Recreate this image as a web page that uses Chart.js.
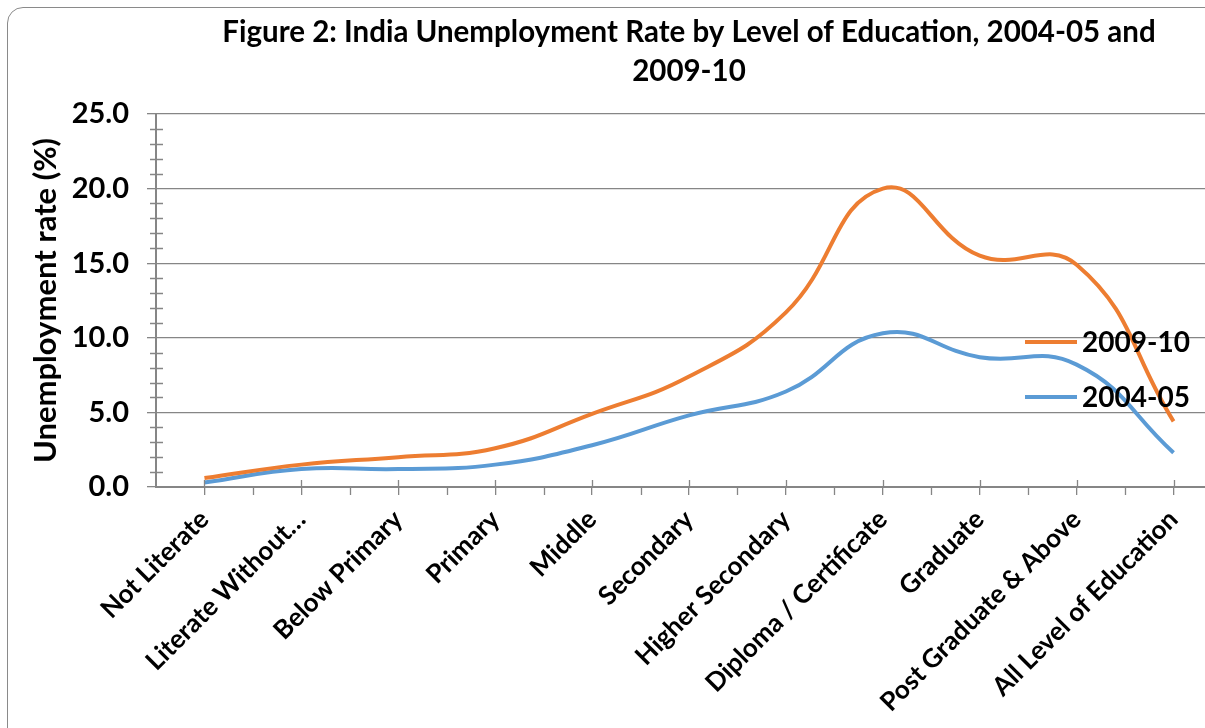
<!DOCTYPE html>
<html>
<head>
<meta charset="utf-8">
<script src="https://cdn.jsdelivr.net/npm/chart.js@4.4.1/dist/chart.umd.min.js"></script>
<style>
  body { margin: 0; overflow: hidden; background: #fff; }
  #wrap { position: relative; width: 1205px; height: 728px; overflow: hidden; }
  #frame { position: absolute; left: 7px; top: 7px; width: 1212px; height: 740px;
           border: 1.5px solid #8a8a8a; border-radius: 16px; pointer-events: none; }
  canvas { position: absolute; left: 0; top: 0; }
</style>
</head>
<body>
<div id="wrap">
  <canvas id="grafico" width="1222" height="728"></canvas>
  <div id="frame"></div>
</div>
<script>
// categorias e valores
const categorias = ['Not Literate', 'Literate Without…', 'Below Primary', 'Primary', 'Middle',
  'Secondary', 'Higher Secondary', 'Diploma / Certificate', 'Graduate',
  'Post Graduate & Above', 'All Level of Education'];
const taxa2009 = [0.6, 1.5, 2.0, 2.6, 4.9, 7.4, 11.7, 20.0, 15.5, 14.9, 4.4];
const taxa2004 = [0.3, 1.2, 1.2, 1.5, 2.8, 4.8, 6.4, 10.3, 8.7, 8.2, 2.3];
const rotulos = ['2009-10', '2004-05'];
const eixoY = { min: 0, max: 25, passo: 5, passoMenor: 1 };

const cinza = '#868686';
const fonte = 'Lato';

// marcas menores dos eixos (como no Excel)
const marcasMenores = {
  id: 'marcasMenores',
  afterDraw(chart) {
    const ctx = chart.ctx;
    const x = chart.scales.x, y = chart.scales.y;
    ctx.save();
    ctx.strokeStyle = cinza;
    ctx.lineWidth = 1.3;
    ctx.beginPath();
    for (let v = eixoY.min; v <= eixoY.max; v += eixoY.passoMenor) {
      if (v % eixoY.passo === 0) continue;
      const py = Math.round(y.getPixelForValue(v)) + 0.5;
      ctx.moveTo(y.right - 6, py);
      ctx.lineTo(y.right + 7, py);
    }
    const base = y.getPixelForValue(0);
    for (let i = 0; i < categorias.length; i++) {
      const px = Math.round(x.getPixelForTick(i)) + 0.5;
      ctx.moveTo(px, base - 7);
      ctx.lineTo(px, base);
      if (i > 0) {
        const meio = Math.round((x.getPixelForTick(i) + x.getPixelForTick(i - 1)) / 2) + 0.5;
        ctx.moveTo(meio, base);
        ctx.lineTo(meio, base + 8);
      }
    }
    ctx.stroke();
    ctx.restore();
  }
};

// legenda desenhada dentro da área do gráfico
const legendaDentro = {
  id: 'legendaDentro',
  afterDraw(chart) {
    const ctx = chart.ctx;
    const a = chart.chartArea;
    ctx.save();
    ctx.font = 'bold 28px ' + fonte;
    ctx.textBaseline = 'middle';
    ctx.fillStyle = '#000';
    chart.data.datasets.forEach((ds, i) => {
      const cy = a.top + 228 + i * 55;
      const x0 = a.right - 197;
      ctx.strokeStyle = ds.borderColor;
      ctx.lineWidth = 4;
      ctx.beginPath();
      ctx.moveTo(x0, cy);
      ctx.lineTo(x0 + 52, cy);
      ctx.stroke();
      ctx.fillText(ds.label, x0 + 57, cy + 1);
    });
    ctx.restore();
  }
};

new Chart(document.getElementById('grafico'), {
  type: 'line',
  data: {
    labels: categorias,
    datasets: [
      { label: rotulos[0], data: taxa2009, borderColor: '#ED7D31', backgroundColor: '#ED7D31',
        borderWidth: 4, pointRadius: 0, tension: 0.45, fill: false },
      { label: rotulos[1], data: taxa2004, borderColor: '#5B9BD5', backgroundColor: '#5B9BD5',
        borderWidth: 4, pointRadius: 0, tension: 0.45, fill: false }
    ]
  },
  options: {
    responsive: false,
    animation: false,
    devicePixelRatio: 1,
    layout: { padding: 0 },
    plugins: {
      legend: { display: false },
      tooltip: { enabled: false },
      title: {
        display: true,
        fullSize: false,
        text: ['Figure 2: India Unemployment Rate by Level of Education, 2004-05 and', '2009-10'],
        color: '#000',
        font: { family: fonte, size: 29.5, weight: 'bold', lineHeight: 1.355 },
        padding: { top: 12, bottom: 22 }
      }
    },
    scales: {
      x: {
        offset: true,
        afterFit(s) { s.height = 241; },
        grid: { display: true, drawOnChartArea: false, offset: false, color: cinza, tickLength: 8, lineWidth: 1.3 },
        border: { color: cinza, width: 2 },
        ticks: {
          autoSkip: false, minRotation: 45, maxRotation: 45, padding: 9,
          color: '#000', font: { family: fonte, size: 26, weight: 'bold' }
        }
      },
      y: {
        min: eixoY.min, max: eixoY.max,
        afterFit(s) { s.width = 156; },
        grid: { color: cinza, lineWidth: 1.3, tickLength: 9 },
        border: { color: cinza, width: 2 },
        ticks: {
          stepSize: eixoY.passo, padding: 18, color: '#000',
          font: { family: fonte, size: 29, weight: 'bold' },
          callback: v => v.toFixed(1)
        },
        title: {
          display: true, text: 'Unemployment rate (%)', color: '#000',
          font: { family: fonte, size: 31, weight: 'bold' },
          padding: { top: 27, bottom: 0 }
        }
      }
    }
  },
  plugins: [marcasMenores, legendaDentro]
});
</script>
</body>
</html>
